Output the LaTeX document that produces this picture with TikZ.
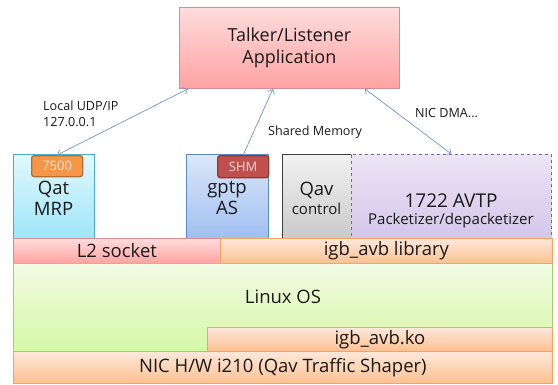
\documentclass[tikz,border=0pt]{standalone}
\usepackage{fontspec}
\setmainfont{Open Sans}
\usetikzlibrary{arrows.meta,calc}
\definecolor{redTop}{HTML}{FFDCDC}
\definecolor{redBot}{HTML}{FFA2A2}
\definecolor{redLine}{HTML}{D88E8C}
\definecolor{cyanTop}{HTML}{E2F8FE}
\definecolor{cyanBot}{HTML}{9DE6F9}
\definecolor{cyanLine}{HTML}{4BACC6}
\definecolor{blueTop}{HTML}{DDE7F9}
\definecolor{blueBot}{HTML}{9FBFF0}
\definecolor{blueLine}{HTML}{5B89C6}
\definecolor{grayTop}{HTML}{F2F2F2}
\definecolor{grayBot}{HTML}{C9C9C9}
\definecolor{grayLine}{HTML}{3F3F3F}
\definecolor{lilacTop}{HTML}{ECE5F6}
\definecolor{lilacBot}{HTML}{D3C6EA}
\definecolor{lilacLine}{HTML}{8064A2}
\definecolor{peachTop}{HTML}{FEE8DA}
\definecolor{peachBot}{HTML}{FBC091}
\definecolor{peachLine}{HTML}{F4A460}
\definecolor{greenTop}{HTML}{F1FBE3}
\definecolor{greenBot}{HTML}{D6F8A6}
\definecolor{greenLine}{HTML}{A9CC6A}
\definecolor{orangeFill}{HTML}{F79646}
\definecolor{orangeLine}{HTML}{B66D31}
\definecolor{shmFill}{HTML}{C0504D}
\definecolor{shmLine}{HTML}{8C3836}
\definecolor{linkBlue}{HTML}{6E98CF}
\definecolor{ink}{HTML}{1A1A1A}
\tikzset{barb/.tip={Straight Barb[length=4pt,width=7pt]}}
\begin{document}
\begin{tikzpicture}[x=1pt,y=-1pt, text=ink,
  big/.style={font=\fontsize{18.5}{21}\selectfont},
  mid/.style={font=\fontsize{15}{17}\selectfont},
  block/.style={draw, line width=0.8pt, inner sep=0pt, anchor=north west,
    align=center, big},
  redblock/.style={block, top color=redTop, bottom color=redBot, draw=redLine},
  cyanblock/.style={block, top color=cyanTop, bottom color=cyanBot, draw=cyanLine},
  blueblock/.style={block, top color=blueTop, bottom color=blueBot, draw=blueLine},
  grayblock/.style={block, top color=grayTop, bottom color=grayBot, draw=grayLine},
  lilacblock/.style={block, top color=lilacTop, bottom color=lilacBot, draw=lilacLine, dashed},
  peachblock/.style={block, top color=peachTop, bottom color=peachBot, draw=peachLine},
  greenblock/.style={block, top color=greenTop, bottom color=greenBot, draw=greenLine},
  badge/.style={draw, line width=1.3pt, rounded corners=2.5pt, inner sep=0pt, anchor=north west,
    font=\fontsize{13}{14}\selectfont},
  link/.style={draw=linkBlue, line width=0.7pt},
  note/.style={font=\fontsize{12.6}{16}\selectfont, align=left, inner sep=0pt}
]
\useasboundingbox (0,0) rectangle (558,384);

% application on top
\node[redblock, font=\fontsize{18}{22}\selectfont, minimum width=220pt, minimum height=81pt] (talker) at (179,7)
  {Talker/Listener\\Application};

% user-space services
\node[cyanblock, minimum width=81pt, minimum height=84pt] (qat) at (13,154) {};
\node[big, align=center] (qattext) at (53.5,198) {Qat\\MRP};
\node[blueblock, minimum width=82pt, minimum height=84pt] (gptp) at (186,154) {};
\node[big, align=center] (gptptext) at (227,198) {gptp\\AS};
\node[grayblock, minimum width=69pt, minimum height=85pt] (qav) at (282,154) {};
\node[big, inner sep=0pt] (qavname) at (316.5,190) {Qav};
\node[mid, inner sep=0pt] (qavrole) at (316.5,209) {control};
\node[lilacblock, minimum width=200pt, minimum height=85pt] (avtp) at (351,154) {};
\node[font=\fontsize{19}{20}\selectfont, inner sep=0pt] (avtpname) at (451,201) {1722 AVTP};
\node[mid, inner sep=0pt] (avtprole) at (451,221) {Packetizer/depacketizer};

% port badges
\node[badge, fill=orangeFill, draw=orangeLine, text=peachTop,
  minimum width=51pt, minimum height=21pt] (port) at (31,155) {7500};
\node[badge, fill=shmFill, draw=shmLine, text=redTop,
  minimum width=51pt, minimum height=22pt] (shm) at (217,155) {SHM};

% libraries and kernel layers
\node[redblock, minimum width=207pt, minimum height=25pt] (l2) at (13,238) {L2 socket};
\node[peachblock, minimum width=332pt, minimum height=25pt] (igblib) at (220,238) {igb\_avb library};
\node[greenblock, minimum width=539pt, minimum height=88pt] (linux) at (13,263) {};
\node[big] (linuxtext) at (283,297) {Linux OS};
\node[peachblock, minimum width=345pt, minimum height=24pt] (ko) at (207,327) {igb\_avb.ko};
\node[peachblock, minimum width=539pt, minimum height=32pt] (nic) at (13,351)
  {NIC H/W i210 (Qav Traffic Shaper)};

% communication paths
\draw[link, barb-barb] ($(talker.south west)+(9,0)$) -- (port.north);
\draw[link, -barb] (shm.north) -- ($(talker.south west)+(94,0)$);
\draw[link, barb-barb] ($(talker.south east)+(-35,0)$) -- (avtp.north);

% path labels
\node[note, anchor=west] (udp) at (43,114) {Local UDP/IP\\127.0.0.1};
\node[note, anchor=west] (shmlabel) at (268,132) {Shared Memory};
\node[note, anchor=west] (dma) at (415,113) {NIC DMA...};
\end{tikzpicture}
\end{document}
